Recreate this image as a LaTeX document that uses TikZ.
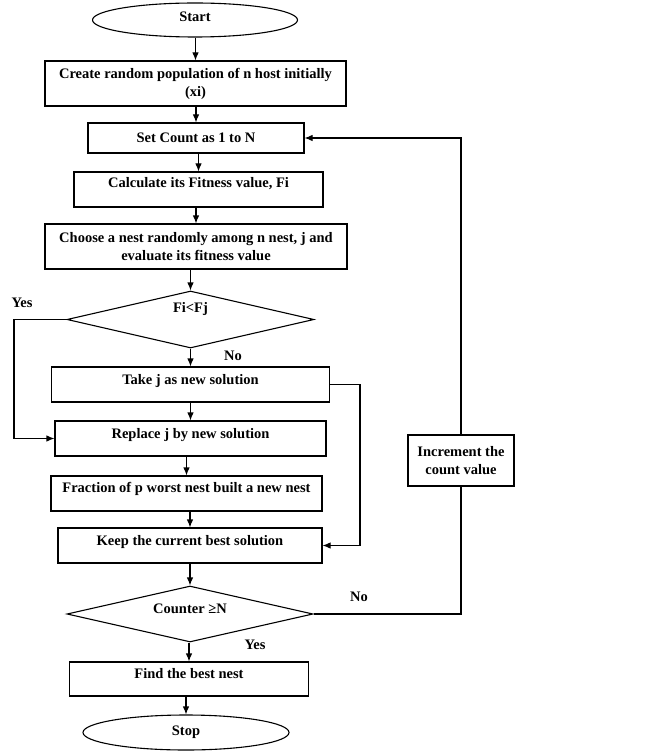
\documentclass[tikz,border=0pt]{standalone}
\usepackage{fontspec}
\setmainfont{Liberation Serif}
\usetikzlibrary{shapes.geometric,arrows.meta,positioning}

\begin{document}
\begin{tikzpicture}[x=1pt,y=-1pt,
    every node/.style={font=\fontsize{14.5}{18}\selectfont\bfseries},
    procbox/.style={draw, line width=1.1pt, rectangle, inner sep=0pt, align=center},
    lift/.style={text height=8pt, text depth=#1},
    decision/.style={draw, diamond, aspect=4.3, inner sep=0pt, line width=1.1pt},
    terminal/.style={draw, ellipse, inner sep=0pt, line width=1.1pt},
    arr/.style={-{Latex[length=8pt,width=6.5pt]}, line width=1.1pt}]
\useasboundingbox (0,0) rectangle (657,751);

% main column
\node[terminal, minimum width=205pt, minimum height=34pt, lift=4pt] (start) at (195,20) {Start};
\node[procbox, minimum width=301pt, minimum height=45pt] (create) at (195.5,83.5) {Create random population of n host initially\\(xi)};
\node[procbox, minimum width=216pt, minimum height=30pt] (setc) at (196,138) {Set Count as 1 to N};
\node[procbox, minimum width=249pt, minimum height=35pt, lift=11pt] (calc) at (198.5,189.5) {Calculate its Fitness value, Fi};
\node[procbox, minimum width=302pt, minimum height=45pt] (choose) at (196,246.5) {Choose a nest randomly among n nest, j and\\evaluate its fitness value};
\node[decision, minimum width=247pt, minimum height=57pt, lift=22pt] (d1) at (190.5,319.5) {Fi<Fj};
\node[procbox, minimum width=278pt, minimum height=35pt, lift=9pt] (take) at (190.5,384.5) {Take j as new solution};
\node[procbox, minimum width=271pt, minimum height=35pt, lift=9pt] (repl) at (190.5,438.5) {Replace j by new solution};
\node[procbox, minimum width=271pt, minimum height=35pt, lift=11pt] (frac) at (186.5,493.5) {Fraction of p worst nest built a new nest};
\node[procbox, minimum width=264pt, minimum height=35pt, lift=9pt] (keep) at (190,545.5) {Keep the current best solution};
\node[decision, minimum width=246pt, minimum height=56pt, lift=10pt] (d2) at (190,614) {Counter ≥N};
\node[procbox, minimum width=239pt, minimum height=34pt, lift=10pt] (find) at (189,679) {Find the best nest};
\node[terminal, minimum width=206pt, minimum height=35pt] (stop) at (186,732.5) {Stop};

% loop box
\node[procbox, minimum width=106pt, minimum height=51pt] (inc) at (461,460.5) {Increment the\\count value};

% branch labels
\node (yes1) at (22,303) {Yes};
\node (no1) at (233,356) {No};
\node (no2) at (359,597) {No};
\node (yes2) at (255,645) {Yes};

\coordinate (yesx) at (14,400);
\coordinate (takex) at (360,460);

\foreach \a/\b in {start/create, create/setc, setc/calc, calc/choose, choose/d1, d1/take,
    take/repl, repl/frac, frac/keep, keep/d2, d2/find, find/stop}
  \draw[arr] (\a.south -| \b) -- (\b.north);

\draw[arr] (d1.west) -| (yesx) |- (repl.west);
\draw[arr] (take.east) -| (takex) |- (keep.east);
\draw[line width=1.1pt] (d2.east) -| (inc.south);
\draw[arr] (inc.north) |- (setc.east);
\end{tikzpicture}
\end{document}
